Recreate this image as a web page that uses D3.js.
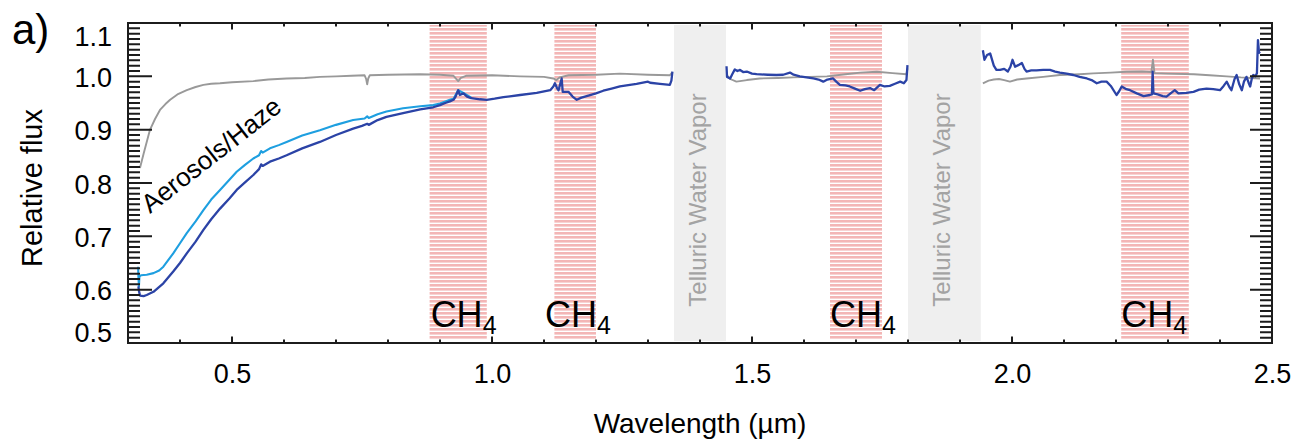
<!DOCTYPE html>
<html>
<head>
<meta charset="utf-8">
<script src="https://cdn.jsdelivr.net/npm/d3@7/dist/d3.min.js"></script>
<style>
  html, body { margin: 0; padding: 0; background: #fff; }
  svg { display: block; font-family: "Liberation Sans", Arial, Helvetica, sans-serif; }
</style>
</head>
<body>
<svg id="chart" width="1299" height="443"></svg>
<script>
// ---- data -------------------------------------------------------------
// wavelength (µm), relative flux; null marks a gap in the spectrum
const greySpectrum = [
  [0.323,0.828],[0.33,0.855],[0.342,0.899],[0.352,0.920],[0.3615,0.937],[0.372,0.948],
  [0.381,0.956],[0.395,0.966],[0.413,0.974],[0.43,0.980],[0.445,0.984],[0.46,0.986],
  [0.477,0.987],[0.50,0.989],[0.541,0.991],[0.57,0.994],[0.605,0.996],[0.64,0.997],
  [0.669,0.999],[0.70,1.0],[0.73,1.001],[0.755,1.002],[0.758,0.995],[0.760,0.985],
  [0.762,0.996],[0.765,1.002],[0.80,1.003],[0.862,1.004],[0.90,1.003],[0.926,1.001],
  [0.935,0.991],[0.94,0.997],[0.95,1.001],[1.0,1.002],[1.054,1.000],[1.10,0.999],
  [1.118,0.996],[1.124,0.993],[1.13,0.998],[1.147,1.002],[1.2,1.003],[1.246,1.005],
  [1.30,1.003],[1.342,1.002],[1.347,1.008],
  [1.40,null],
  [1.451,1.0025],[1.458,0.995],[1.47,0.990],[1.49,0.993],[1.515,0.996],[1.55,0.997],
  [1.579,0.998],[1.61,0.999],[1.644,1.0],[1.68,1.004],[1.708,1.007],[1.74,1.0085],
  [1.77,1.006],[1.797,1.004],[1.799,1.015],
  [1.87,null],
  [1.944,0.987],[1.955,0.992],[1.965,0.994],[1.975,0.995],[1.985,0.993],[1.996,0.990],
  [2.01,0.994],[2.028,0.996],[2.06,0.999],[2.092,1.0025],[2.13,1.004],[2.156,1.0055],
  [2.19,1.007],[2.22,1.0085],[2.25,1.009],[2.268,1.008],[2.271,1.031],[2.274,1.006],
  [2.30,1.005],[2.35,1.004],[2.38,1.002],[2.413,1.0],[2.44,0.998],[2.46,0.997],[2.477,0.996]
];

const lightBlueSpectrum = [
  [0.3195,0.643],[0.320,0.625],[0.321,0.606],[0.322,0.625],[0.325,0.627],[0.336,0.628],
  [0.349,0.631],[0.36,0.636],[0.368,0.643],[0.387,0.668],[0.40,0.687],[0.413,0.706],
  [0.43,0.728],[0.445,0.749],[0.46,0.769],[0.477,0.787],[0.495,0.806],[0.509,0.821],
  [0.525,0.834],[0.541,0.846],[0.552,0.852],[0.556,0.860],[0.559,0.857],[0.573,0.865],
  [0.59,0.871],[0.605,0.877],[0.635,0.889],[0.669,0.899],[0.70,0.909],[0.733,0.918],
  [0.755,0.921],[0.760,0.925],[0.763,0.922],[0.78,0.929],[0.797,0.934],[0.829,0.940],
  [0.862,0.944],[0.887,0.946],[0.90,0.949],[0.919,0.956],[0.926,0.958],[0.935,0.974],
  [0.945,0.969],[0.96,0.960]
];

const darkBlueSpectrum = [
  [0.320,0.606],[0.321,0.598],[0.323,0.589],[0.330,0.588],[0.336,0.590],[0.349,0.596],
  [0.368,0.612],[0.387,0.634],[0.40,0.650],[0.413,0.668],[0.43,0.69],[0.445,0.712],
  [0.46,0.732],[0.477,0.752],[0.495,0.771],[0.509,0.787],[0.525,0.801],[0.541,0.815],
  [0.552,0.826],[0.556,0.835],[0.559,0.832],[0.573,0.840],[0.59,0.846],[0.605,0.852],
  [0.635,0.865],[0.669,0.877],[0.70,0.890],[0.733,0.902],[0.750,0.907],[0.760,0.911],
  [0.763,0.909],[0.78,0.918],[0.797,0.924],[0.829,0.931],[0.862,0.938],[0.887,0.942],
  [0.900,0.946],[0.91,0.950],[0.919,0.953],[0.926,0.956],[0.930,0.962],[0.935,0.974],
  [0.938,0.965],[0.945,0.968],[0.952,0.962],[0.96,0.959],[0.977,0.957],[0.99,0.956],
  [1.005,0.958],[1.022,0.961],[1.054,0.965],[1.086,0.969],[1.112,0.974],[1.118,0.981],
  [1.121,0.987],[1.125,0.978],[1.128,0.974],[1.131,0.985],[1.134,0.996],[1.136,0.971],
  [1.147,0.971],[1.155,0.962],[1.163,0.956],[1.172,0.960],[1.182,0.963],[1.20,0.968],
  [1.214,0.973],[1.23,0.977],[1.246,0.981],[1.278,0.986],[1.30,0.990],[1.304,0.988],
  [1.323,0.986],[1.342,0.984],[1.345,0.992],[1.347,1.009],
  [1.40,null],
  [1.451,1.019],[1.452,0.999],[1.458,0.996],[1.462,1.004],[1.467,1.013],[1.472,1.010],
  [1.477,1.012],[1.483,1.008],[1.490,1.009],[1.50,1.005],[1.509,1.004],[1.53,1.003],
  [1.547,1.0025],[1.56,1.003],[1.573,1.007],[1.58,1.003],[1.592,1.0],[1.605,0.998],
  [1.618,0.996],[1.628,0.994],[1.637,0.990],[1.645,0.994],[1.656,0.996],[1.662,0.990],
  [1.669,0.984],[1.68,0.983],[1.688,0.981],[1.698,0.977],[1.708,0.973],[1.717,0.976],
  [1.727,0.978],[1.735,0.974],[1.746,0.984],[1.755,0.981],[1.765,0.982],[1.775,0.986],
  [1.785,0.990],[1.792,0.987],[1.797,0.993],[1.799,1.021],
  [1.87,null],
  [1.944,1.049],[1.947,1.031],[1.952,1.040],[1.958,1.043],[1.965,1.020],[1.970,1.012],
  [1.977,1.012],[1.985,1.014],[1.992,1.009],[1.997,1.018],[2.001,1.031],[2.006,1.018],
  [2.012,1.021],[2.019,1.025],[2.024,1.014],[2.028,1.009],[2.037,1.011],[2.047,1.011],
  [2.06,1.012],[2.073,1.012],[2.083,1.009],[2.092,1.007],[2.105,1.005],[2.118,1.0025],
  [2.13,0.999],[2.144,0.996],[2.153,0.993],[2.163,0.987],[2.172,0.990],[2.182,0.990],
  [2.19,0.982],[2.201,0.965],[2.206,0.972],[2.211,0.981],[2.22,0.976],[2.227,0.974],
  [2.24,0.968],[2.253,0.963],[2.265,0.965],[2.269,0.966],[2.2705,1.009],[2.272,0.968],
  [2.28,0.966],[2.29,0.963],[2.297,0.962],[2.305,0.968],[2.313,0.974],[2.32,0.968],
  [2.335,0.969],[2.349,0.971],[2.36,0.975],[2.374,0.977],[2.387,0.976],[2.40,0.974],
  [2.407,0.982],[2.413,0.990],[2.418,0.980],[2.422,0.974],[2.428,0.995],[2.432,1.0025],
  [2.437,0.985],[2.442,0.974],[2.446,0.990],[2.451,0.999],[2.455,0.988],[2.458,0.981],
  [2.461,0.995],[2.464,1.0025],[2.468,1.0],[2.471,1.006],[2.473,1.068],[2.475,1.045],
  [2.477,1.043]
];

// absorption bands (µm)
const methaneBands = [[0.88,0.99],[1.12,1.20],[1.65,1.75],[2.21,2.34]];
const methaneLabelStarts = [0.882,1.102,1.65,2.21];
const telluricBands = [[1.35,1.45],[1.80,1.94]];
const telluricLabel = "Telluric Water Vapor";

// axis ticks
const xMajorTicks = [0.5,1.0,1.5,2.0,2.5];
const xMinorTicks = [0.3,0.4,0.6,0.7,0.8,0.9,1.1,1.2,1.3,1.4,1.6,1.7,1.8,1.9,2.1,2.2,2.3,2.4];
const yMajorTicks = [0.5,0.6,0.7,0.8,0.9,1.0,1.1];
const yMinorTicks = [0.51,0.52,0.53,0.54,0.55,0.56,0.57,0.58,0.59,
  0.61,0.62,0.63,0.64,0.65,0.66,0.67,0.68,0.69,
  0.71,0.72,0.73,0.74,0.75,0.76,0.77,0.78,0.79,
  0.81,0.82,0.83,0.84,0.85,0.86,0.87,0.88,0.89,
  0.91,0.92,0.93,0.94,0.95,0.96,0.97,0.98,0.99,
  1.01,1.02,1.03,1.04,1.05,1.06,1.07,1.08,1.09];

(function draw() {
  const svg = d3.select("#chart");
  const mLeft = 128, mRight = 1272, mTop = 23, mBottom = 343;
  const x = d3.scaleLinear().domain([0.3,2.5]).range([mLeft,mRight]);
  const y = d3.scaleLinear().domain([0.5,1.1]).range([mBottom,mTop]);

  // striped fill for the methane bands
  const defs = svg.append("defs");
  const pat = defs.append("pattern").attr("id","stripes")
    .attr("patternUnits","userSpaceOnUse").attr("width",8).attr("height",4);
  pat.append("rect").attr("width",8).attr("height",4).attr("fill","#fff");
  pat.append("rect").attr("y",0).attr("width",8).attr("height",2.6).attr("fill","#f3b6b6");

  const bands = svg.append("g");
  bands.selectAll("rect.ch4").data(methaneBands).join("rect")
    .attr("class","ch4")
    .attr("x", d => x(d[0])).attr("width", d => x(d[1]) - x(d[0]))
    .attr("y", mTop + 2).attr("height", mBottom - mTop - 5)
    .attr("fill","url(#stripes)");

  bands.selectAll("rect.h2o").data(telluricBands).join("rect")
    .attr("class","h2o")
    .attr("x", d => x(d[0])).attr("width", d => x(d[1]) - x(d[0]))
    .attr("y", mTop + 2).attr("height", mBottom - mTop - 4)
    .attr("fill","#efefef");

  bands.selectAll("text.h2o").data(telluricBands).join("text")
    .attr("class","h2o")
    .attr("transform", d => `translate(${(x(d[0]) + x(d[1]))/2 + 6},200) rotate(-90)`)
    .attr("text-anchor","middle")
    .attr("font-size",24).attr("fill","#a3a3a3")
    .text(telluricLabel);

  // spectra
  const line = d3.line()
    .defined(d => d[1] !== null)
    .x(d => x(d[0])).y(d => y(d[1]));

  const lines = svg.append("g").attr("fill","none").attr("stroke-linejoin","round");
  lines.append("path").datum(greySpectrum).attr("d", line)
    .attr("stroke","#999999").attr("stroke-width",1.9);
  lines.append("path").datum(lightBlueSpectrum).attr("d", line)
    .attr("stroke","#1e9fe0").attr("stroke-width",2.1);
  lines.append("path").datum(darkBlueSpectrum).attr("d", line)
    .attr("stroke","#2b43a6").attr("stroke-width",2.3);

  // CH4 labels
  const ch4 = svg.append("g").selectAll("text").data(methaneLabelStarts).join("text")
    .attr("x", d => x(d)).attr("y", 327)
    .attr("font-size",36).attr("fill","#000");
  ch4.append("tspan").text("CH");
  ch4.append("tspan").attr("font-size",25).attr("dy",7).text("4");

  // haze annotation
  svg.append("text")
    .attr("transform","translate(150,214) rotate(-38)")
    .attr("font-size",26).attr("fill","#000")
    .text("Aerosols/Haze");

  // ---- tick labels ----------------------------------------------------
  const yAxis = svg.append("g").attr("transform",`translate(${mLeft},0)`)
    .call(d3.axisLeft(y).tickValues(yMajorTicks).tickSize(0).tickPadding(16).tickFormat(d3.format(".1f")));
  yAxis.select(".domain").remove();
  yAxis.selectAll("text").attr("font-size",27).attr("font-family","Liberation Sans, Arial, sans-serif").attr("fill","#000")
    .attr("dy", d => d === 1.1 ? "0.85em" : d === 0.5 ? "-0.05em" : "0.38em");

  const xAxis = svg.append("g").attr("transform",`translate(0,${mBottom})`)
    .call(d3.axisBottom(x).tickValues(xMajorTicks).tickSize(0).tickPadding(21).tickFormat(d3.format(".1f")));
  xAxis.select(".domain").remove();
  xAxis.selectAll("text").attr("font-size",27).attr("font-family","Liberation Sans, Arial, sans-serif").attr("fill","#000");

  // ---- frame and inward tick marks, built as one outline path ---------
  const fp = d3.path();
  fp.rect(mLeft, mTop, mRight - mLeft, mBottom - mTop);
  yMinorTicks.forEach(v => {
    const py = y(v);
    fp.moveTo(mLeft, py); fp.lineTo(mLeft + 12, py);
    fp.moveTo(mRight, py); fp.lineTo(mRight - 12, py);
  });
  yMajorTicks.forEach(v => {
    const py = y(v);
    fp.moveTo(mLeft, py); fp.lineTo(mLeft + 24, py);
    fp.moveTo(mRight, py); fp.lineTo(mRight - 22, py);
  });
  xMinorTicks.forEach(v => {
    const px = x(v);
    fp.moveTo(px, mBottom); fp.lineTo(px, mBottom - 3.5);
    fp.moveTo(px, mTop); fp.lineTo(px, mTop + 3.5);
  });
  xMajorTicks.forEach(v => {
    const px = x(v);
    fp.moveTo(px, mBottom); fp.lineTo(px, mBottom - 6.5);
    fp.moveTo(px, mTop); fp.lineTo(px, mTop + 6.5);
  });
  svg.append("path")
    .attr("d", fp.toString())
    .style("fill", "none").style("stroke", "#1c1c1c").style("stroke-width", "2px");

  // titles
  svg.append("text")
    .attr("x", (mLeft + mRight)/2).attr("y", 433)
    .attr("text-anchor","middle").attr("font-size",28).attr("fill","#000")
    .text("Wavelength (µm)");

  svg.append("text")
    .attr("transform","translate(42,188) rotate(-90)")
    .attr("text-anchor","middle").attr("font-size",29).attr("fill","#000")
    .text("Relative flux");

  svg.append("text")
    .attr("x", 12).attr("y", 44)
    .attr("font-size",42).attr("fill","#000")
    .text("a)");
})();
</script>
</body>
</html>
